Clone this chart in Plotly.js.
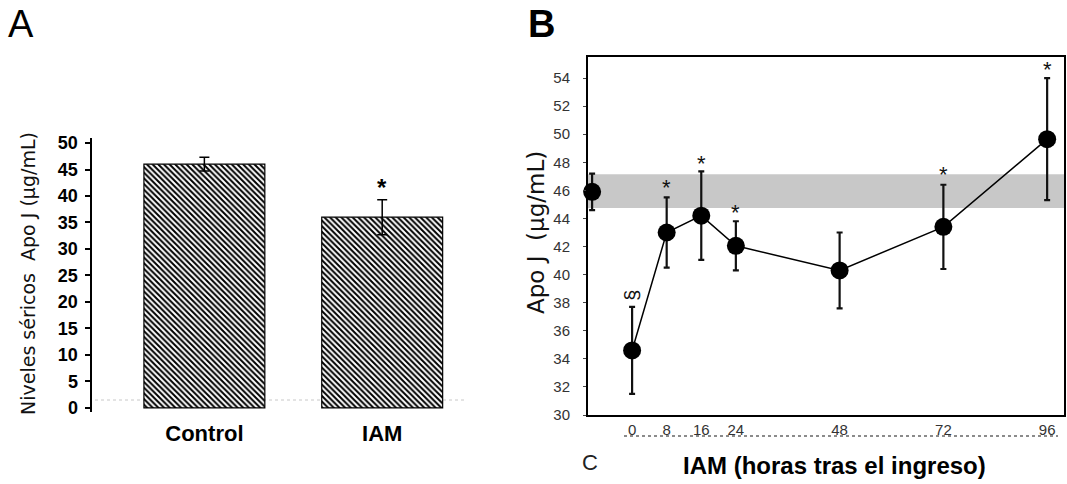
<!DOCTYPE html>
<html>
<head>
<meta charset="utf-8">
<script src="https://cdn.plot.ly/plotly-3.0.1.min.js"></script>
<style>html,body{margin:0;padding:0;background:#fff}#chart{width:1067px;height:484px}</style>
</head>
<body>
<div id="chart"></div>
<script>
// ---- Panel A data ----
const groupLabels = ['Control', 'IAM'];
const groupMeans = [46.0, 36.0];
const groupErr = [1.3, 3.3];
const groupSig = ['', '*'];
const groupSigY = [null, 41.6];
const yTicksA = [0, 5, 10, 15, 20, 25, 30, 35, 40, 45, 50];

// ---- Panel B data ----
const hours = [0, 8, 16, 24, 48, 72, 96];
const hourMeans = [34.6, 43.0, 44.2, 42.05, 40.3, 43.4, 49.65];
const hourErr = [3.1, 2.5, 3.15, 1.75, 2.7, 3.0, 4.35];
const hourSig = ['§', '*', '*', '*', '', '*', '*'];
const hourSigY = [38.5, 46.2, 47.9, 44.4, null, 47.1, 54.6];
const controlX = [-9.25];
const controlMean = [45.9];
const controlErr = [1.3];
const refBand = [44.75, 47.15];
const yTicksB = [30, 32, 34, 36, 38, 40, 42, 44, 46, 48, 50, 52, 54];

const W = 1067, H = 484;
const px = x => x / W;
const py = y => 1 - y / H;

const traces = [
  {
    type: 'bar', x: [0, 1], y: groupMeans, width: 0.68,
    xaxis: 'x', yaxis: 'y',
    marker: {
      color: 'white',
      pattern: {shape: '\\', size: 4, solidity: 0.5, fgcolor: '#000', bgcolor: '#fff'},
      line: {color: '#000', width: 1.2}
    },
    error_y: {type: 'data', array: groupErr, visible: true, color: '#000', thickness: 1.5, width: 5},
    hoverinfo: 'skip', showlegend: false
  },
  {
    type: 'scatter', mode: 'lines+markers', x: hours, y: hourMeans,
    xaxis: 'x2', yaxis: 'y2', cliponaxis: false,
    line: {color: '#000', width: 1.5},
    marker: {color: '#000', size: 18},
    error_y: {type: 'data', array: hourErr, visible: true, color: '#111', thickness: 2.2, width: 3},
    showlegend: false
  },
  {
    type: 'scatter', mode: 'markers', x: controlX, y: controlMean,
    xaxis: 'x2', yaxis: 'y2', cliponaxis: false,
    marker: {color: '#000', size: 18},
    error_y: {type: 'data', array: controlErr, visible: true, color: '#111', thickness: 2.2, width: 3},
    showlegend: false
  }
];

const annotations = [];
groupSig.forEach((s, i) => {
  if (s) annotations.push({xref: 'x', yref: 'y', x: i, y: groupSigY[i], text: s, showarrow: false,
    font: {family: 'Liberation Sans', size: 24, color: '#000', weight: 'bold'}});
});
hourSig.forEach((s, i) => {
  if (s) annotations.push({xref: 'x2', yref: 'y2', x: hours[i], y: hourSigY[i], text: s, showarrow: false,
    textangle: s === '§' ? -90 : 0,
    font: {family: 'Liberation Sans', size: s === '§' ? 20 : 22, color: '#111'}});
});
annotations.push(
  {xref: 'paper', yref: 'paper', x: px(6), y: py(24), xanchor: 'left', yanchor: 'middle', text: 'A', showarrow: false,
    font: {family: 'Liberation Sans', size: 38, color: '#000'}},
  {xref: 'paper', yref: 'paper', x: px(526), y: py(24), xanchor: 'left', yanchor: 'middle', text: 'B', showarrow: false,
    font: {family: 'Liberation Sans', size: 38, color: '#000', weight: 'bold'}},
  {xref: 'paper', yref: 'paper', x: px(28), y: py(274), xanchor: 'center', yanchor: 'middle', textangle: -90,
    text: 'Niveles séricos  Apo J (µg/mL)', showarrow: false,
    font: {family: 'DejaVu Sans', size: 19, color: '#111'}},
  {xref: 'paper', yref: 'paper', x: px(536), y: py(233), xanchor: 'center', yanchor: 'middle', textangle: -90,
    text: 'Apo J  (µg/mL)', showarrow: false,
    font: {family: 'DejaVu Sans', size: 23, color: '#111'}},
  {xref: 'paper', yref: 'paper', x: px(590), y: py(462), xanchor: 'center', yanchor: 'middle',
    text: 'C', showarrow: false, font: {family: 'Liberation Sans', size: 22, color: '#222'}},
  {xref: 'paper', yref: 'paper', x: px(834), y: py(465), xanchor: 'center', yanchor: 'middle',
    text: 'IAM (horas tras el ingreso)', showarrow: false,
    font: {family: 'Liberation Sans', size: 24, color: '#000', weight: 'bold'}}
);

const shapes = [
  {type: 'rect', xref: 'x2 domain', yref: 'y2', x0: 0, x1: 1, y0: refBand[0], y1: refBand[1],
    fillcolor: '#c8c8c8', line: {width: 0}, layer: 'below'},
  {type: 'line', xref: 'paper', yref: 'y', x0: px(95), x1: px(466), y0: 1.5, y1: 1.5,
    line: {color: '#c8c8c8', width: 1, dash: 'dot'}, layer: 'below'},
  {type: 'line', xref: 'paper', yref: 'paper', x0: px(624), x1: px(1058), y0: py(436), y1: py(436),
    line: {color: '#666', width: 1.5, dash: 'dot'}}
];

const layout = {
  width: W, height: H,
  margin: {l: 0, r: 0, t: 0, b: 0},
  paper_bgcolor: '#fff', plot_bgcolor: 'rgba(0,0,0,0)',
  showlegend: false,
  xaxis: {
    domain: [px(92), px(480)], range: [-0.632, 1.55],
    tickvals: [0, 1], ticktext: groupLabels, showline: false, showgrid: false, zeroline: false,
    ticks: '', ticklabelstandoff: 6,
    tickfont: {family: 'Liberation Sans', size: 22, color: '#000', weight: 'bold'}
  },
  yaxis: {
    domain: [py(412.2), py(137.7)], range: [-0.8, 51],
    tickvals: yTicksA, showline: true, linecolor: '#000', linewidth: 2.5,
    ticks: 'outside', ticklen: 5, tickwidth: 2, tickcolor: '#000',
    showgrid: false, zeroline: false, ticklabelstandoff: 3,
    tickfont: {family: 'Liberation Sans', size: 18, color: '#000', weight: 'bold'}
  },
  xaxis2: {
    domain: [px(588), px(1064)], range: [-10.2, 99.9], anchor: 'y2',
    tickvals: hours, showline: true, mirror: true, linecolor: '#000', linewidth: 2,
    ticks: '', showgrid: false, zeroline: false, ticklabelstandoff: 0,
    tickfont: {family: 'Liberation Sans', size: 15, color: '#333'}
  },
  yaxis2: {
    domain: [py(415), py(57)], range: [30, 55.5], anchor: 'x2',
    tickvals: yTicksB, showline: true, mirror: true, linecolor: '#000', linewidth: 2,
    ticks: 'outside', ticklen: 3, tickwidth: 1, tickcolor: '#444',
    showgrid: false, zeroline: false, ticklabelstandoff: 10,
    tickfont: {family: 'Liberation Sans', size: 15, color: '#333'}
  },
  annotations: annotations,
  shapes: shapes
};

Plotly.newPlot('chart', traces, layout, {staticPlot: true, displayModeBar: false});
</script>
</body>
</html>
